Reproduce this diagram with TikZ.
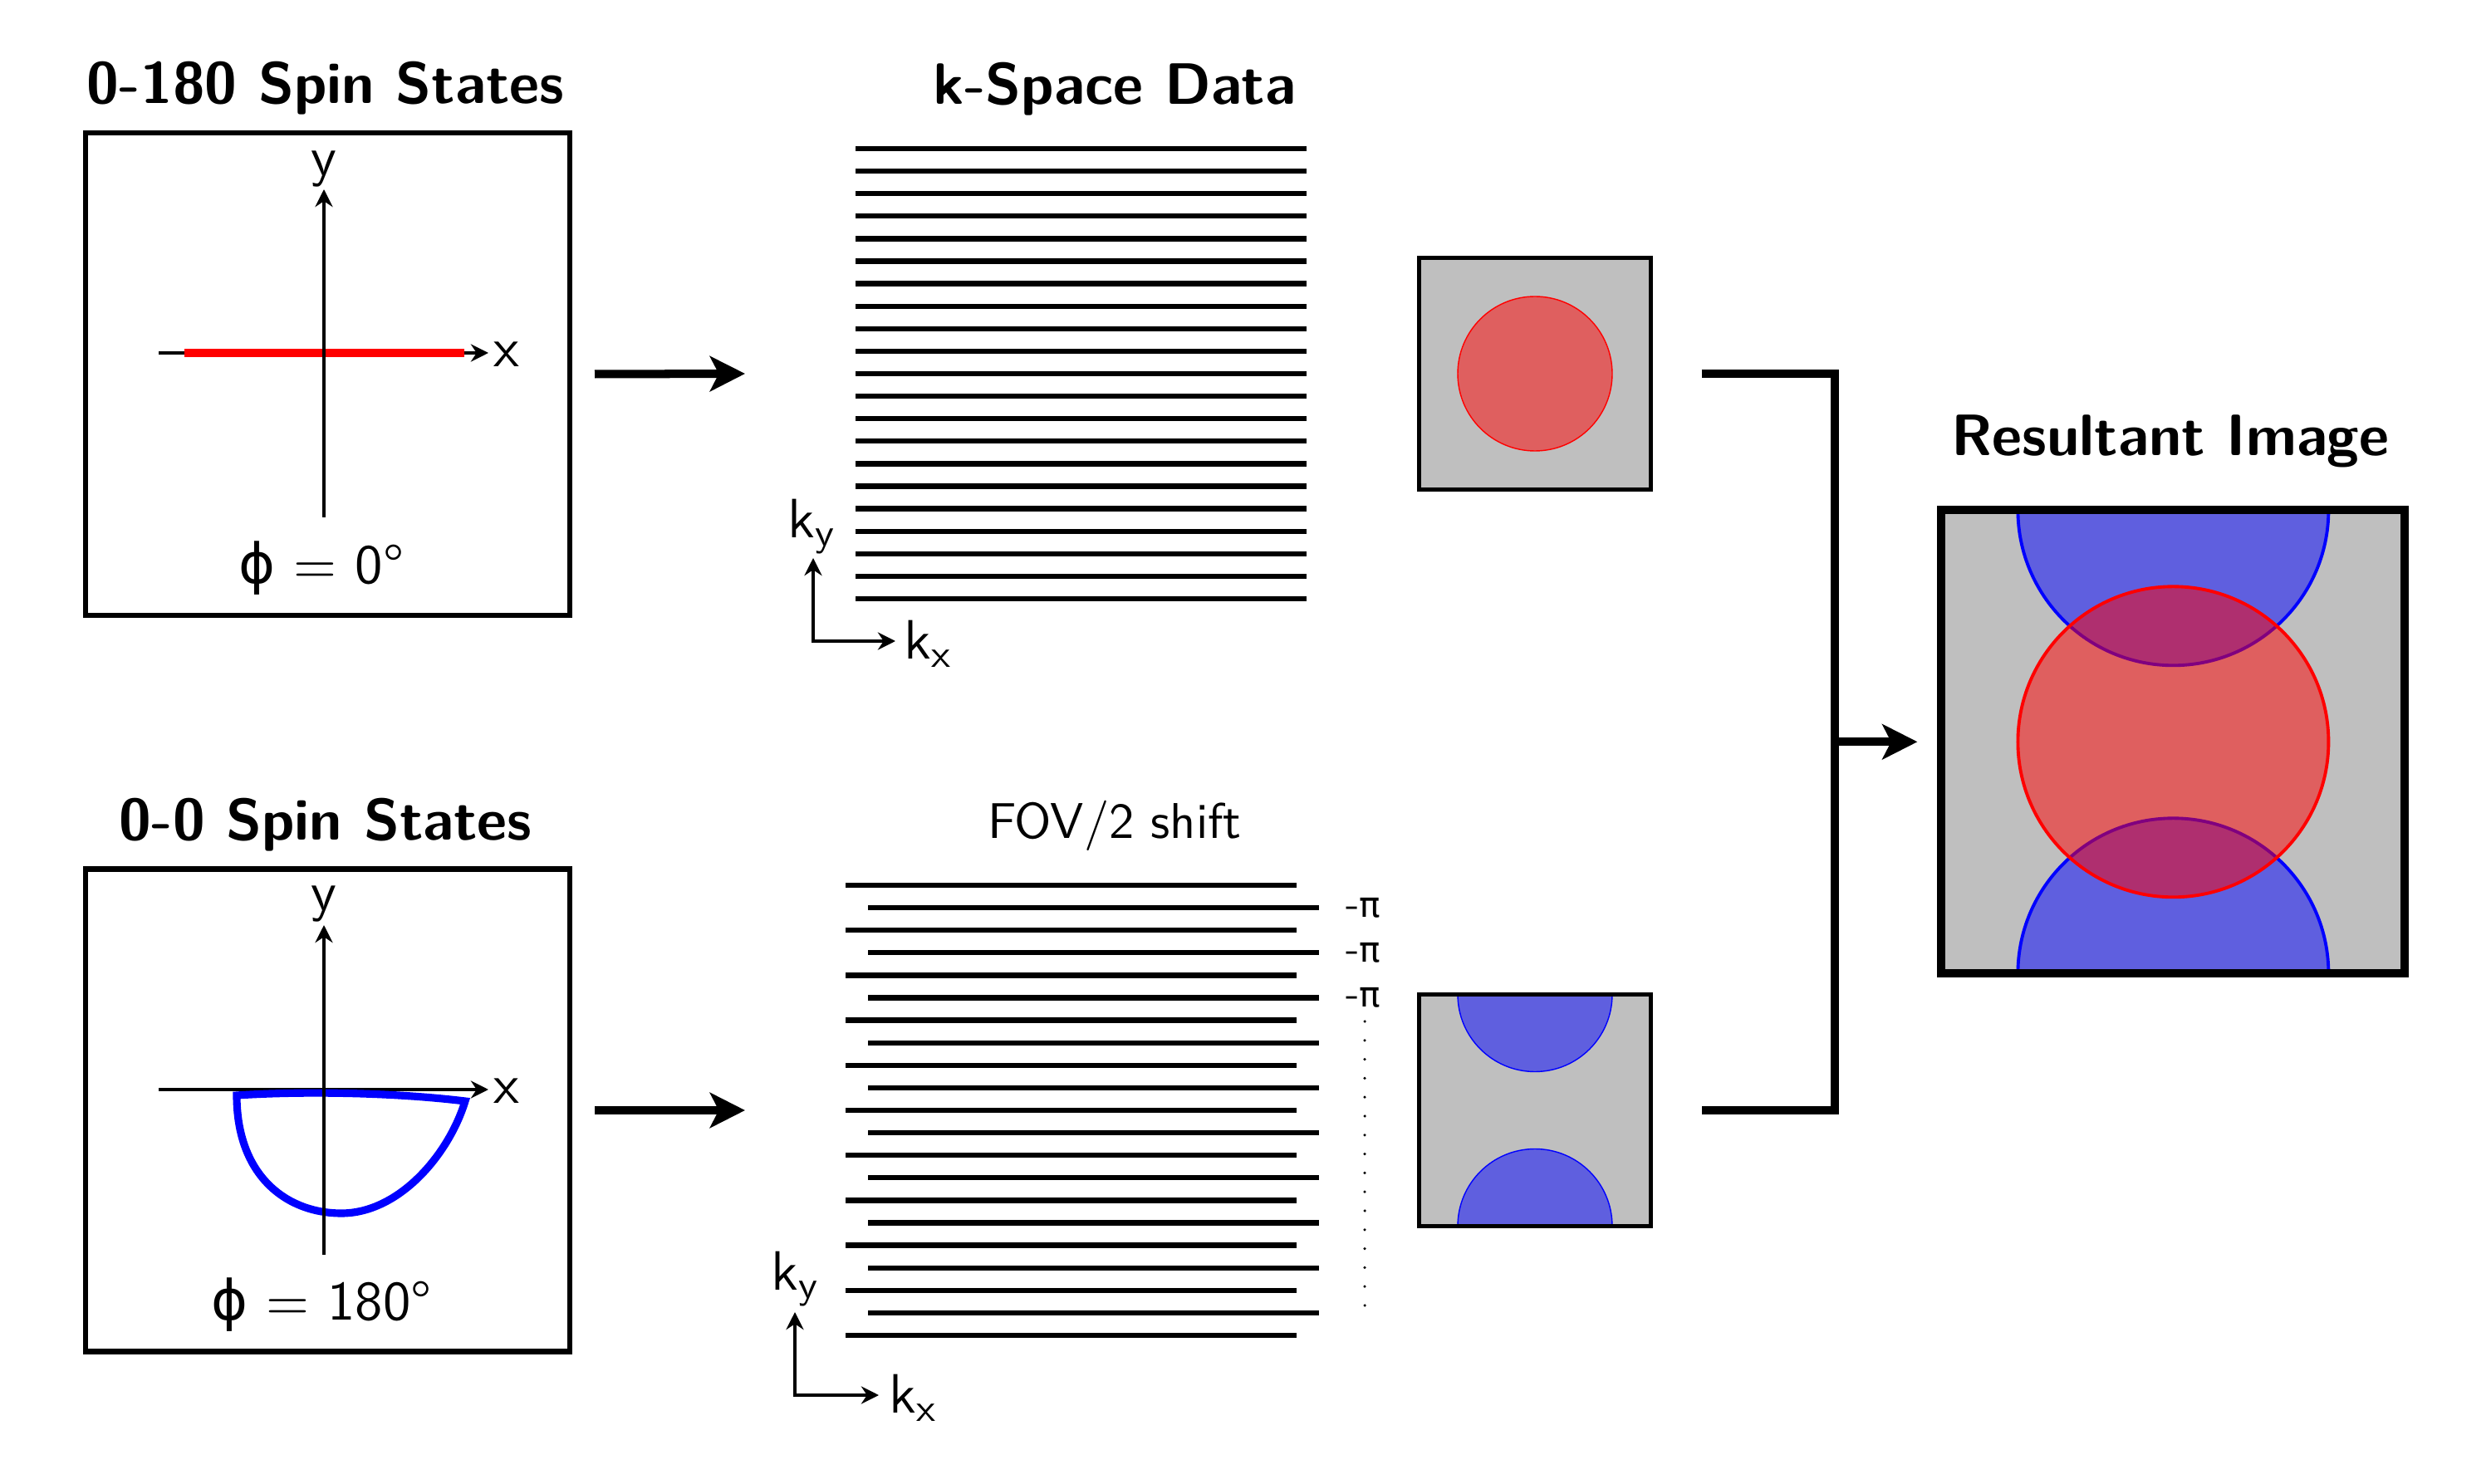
\documentclass[tikz,border=0pt]{standalone}
\usepackage{fontspec}
\newfontfamily\greekfont{DejaVu Sans}
\usepackage{tikz}
\usetikzlibrary{arrows.meta,calc,positioning}

\begin{document}
\begin{tikzpicture}[
    font=\sffamily,
    title/.style={font=\sffamily\bfseries\fontsize{20}{24}\selectfont, anchor=base},
    biglabel/.style={font=\sffamily\fontsize{10}{12}\selectfont, scale=1.9, inner sep=0pt},
    midlabel/.style={font=\sffamily\fontsize{10}{12}\selectfont, scale=1.72, anchor=base},
    pilabel/.style={font=\sffamily\fontsize{10}{12}\selectfont, scale=1.4, inner sep=0pt},
    spinbox/.style={draw, line width=1.8pt, minimum width=5.83cm, minimum height=5.81cm, inner sep=0pt, outer sep=0pt},
    imgbox/.style={draw, line width=1.2pt, fill=black!25, minimum size=2.79cm, inner sep=0pt, outer sep=0pt},
    resbox/.style={draw, line width=2.85pt, fill=black!25, minimum size=5.58cm, inner sep=0pt, outer sep=0pt},
    axis/.style={line width=1.3pt, -{Stealth[length=6pt,width=6pt]}},
    kaxis/.style={line width=1.3pt, {Stealth[length=6pt,width=6pt]}-{Stealth[length=6pt,width=6pt]}},
    bigarrow/.style={line width=2.85pt, -{Stealth[length=12pt,width=12pt,inset=3pt]}},
    kline/.style={line width=1.8pt},
    redspot/.style={fill=red, fill opacity=0.5, draw=red},
    bluespot/.style={fill=blue, fill opacity=0.5, draw=blue},
]
%%%%% START %%%%%
\useasboundingbox (0,0) rectangle (29.99,17.86);

% 0-180 spin states
\node[title] (titleA) at (3.92,16.61) {0-180 Spin States};
\node[spinbox] (spinA) at (3.945,13.355) {};
\draw[axis] (1.91,13.61) -- (5.88,13.61);
\draw[red, line width=2.6pt] (2.22,13.61) -- (5.59,13.61);
\draw[axis] (3.90,11.63) -- (3.90,15.58);
\node[biglabel] (xA) at (6.10,13.59) {x};
\node[biglabel] (yA) at (3.90,15.82) {y};
\node[biglabel, anchor=base] (phiA) at (3.87,10.83) {{\greekfont ϕ} = 0°};

% 0-0 spin states
\node[title] (titleB) at (3.92,7.74) {0-0 Spin States};
\node[spinbox] (spinB) at (3.945,4.49) {};
\draw[axis] (1.91,4.74) -- (5.88,4.74);
\draw[blue, line width=2.6pt] (2.85,4.67) .. controls (2.85,3.70) and (3.45,3.25) .. (4.11,3.25)
    .. controls (4.80,3.25) and (5.40,3.95) .. (5.60,4.60)
    .. controls (4.70,4.71) and (3.60,4.72) .. cycle;
\draw[axis] (3.90,2.75) -- (3.90,6.72);
\node[biglabel] (xB) at (6.10,4.72) {x};
\node[biglabel] (yB) at (3.90,6.97) {y};
\node[biglabel, anchor=base] (phiB) at (3.87,1.97) {{\greekfont ϕ} = 180°};

% arrows to k-space
\coordinate (ksA) at (8.97,13.36);
\coordinate (ksB) at (8.97,4.49);
\draw[bigarrow] ([xshift=3mm]spinA.east) -- (ksA);
\draw[bigarrow] ([xshift=3mm]spinB.east) -- (ksB);

% k-space data
\node[title] (ksTitleA) at (13.42,16.60) {k-Space Data};
\foreach \i in {0,...,20}
    \draw[kline] (10.30,{16.07-0.271*\i}) -- (15.73,{16.07-0.271*\i});
\coordinate (kA) at (9.79,10.14);
\draw[kaxis] (9.79,11.14) -- (kA) -- (10.78,10.14);
\node[biglabel] (kyA) at (9.78,11.52) {k$_\mathsf{y}$};
\node[biglabel] (kxA) at (11.18,10.11) {k$_\mathsf{x}$};

% FOV/2 shift
\node[midlabel] (ksTitleB) at (13.42,7.76) {FOV/2 shift};
\foreach \i in {0,2,...,20}
    \draw[kline] (10.18,{7.20-0.271*\i}) -- (15.61,{7.20-0.271*\i});
\foreach \i in {1,3,...,19}
    \draw[kline] (10.45,{7.20-0.271*\i}) -- (15.88,{7.20-0.271*\i});
\foreach \i in {1,3,5}
    \node[pilabel] (pi\i) at (16.41,{7.20-0.271*\i}) {-{\greekfont\fontsize{8.6}{10}\selectfont π}};
\foreach \j in {0,...,15}
    \fill (16.43,{5.56-0.228*\j}) circle (0.5pt);
\coordinate (kB) at (9.57,1.06);
\draw[kaxis] (9.57,2.06) -- (kB) -- (10.58,1.06);
\node[biglabel] (kyB) at (9.58,2.46) {k$_\mathsf{y}$};
\node[biglabel] (kxB) at (11.00,1.03) {k$_\mathsf{x}$};

% small images
\node[imgbox] (imgA) at (18.48,13.36) {};
\draw[redspot] (imgA.center) circle (0.93);
\node[imgbox] (imgB) at (18.48,4.49) {};
\begin{scope}
    \clip (imgB.south west) rectangle (imgB.north east);
    \draw[bluespot] (imgB.north) circle (0.93);
    \draw[bluespot] (imgB.south) circle (0.93);
\end{scope}
\draw[line width=1.2pt] (imgB.south west) rectangle (imgB.north east);

% join
\coordinate (join) at (22.09,8.927);
\draw[line width=2.6pt] ([xshift=6.1mm]imgA.east) -| (join) |- ([xshift=6.1mm]imgB.east);

% resultant image
\node[title] (resTitle) at (26.13,12.375) {Resultant Image};
\node[resbox] (res) at (26.164,8.927) {};
\begin{scope}
    \clip (res.south west) rectangle (res.north east);
    \draw[bluespot, line width=1.1pt] (res.north) circle (1.87);
    \draw[bluespot, line width=1.1pt] (res.south) circle (1.87);
    \draw[redspot, line width=1.1pt] (res.center) circle (1.87);
\end{scope}
\draw[line width=2.85pt] (res.south west) rectangle (res.north east);
\draw[bigarrow] (join) -- ([xshift=-2.9mm]res.west);

%%%%% END %%%%%
\end{tikzpicture}
\end{document}
